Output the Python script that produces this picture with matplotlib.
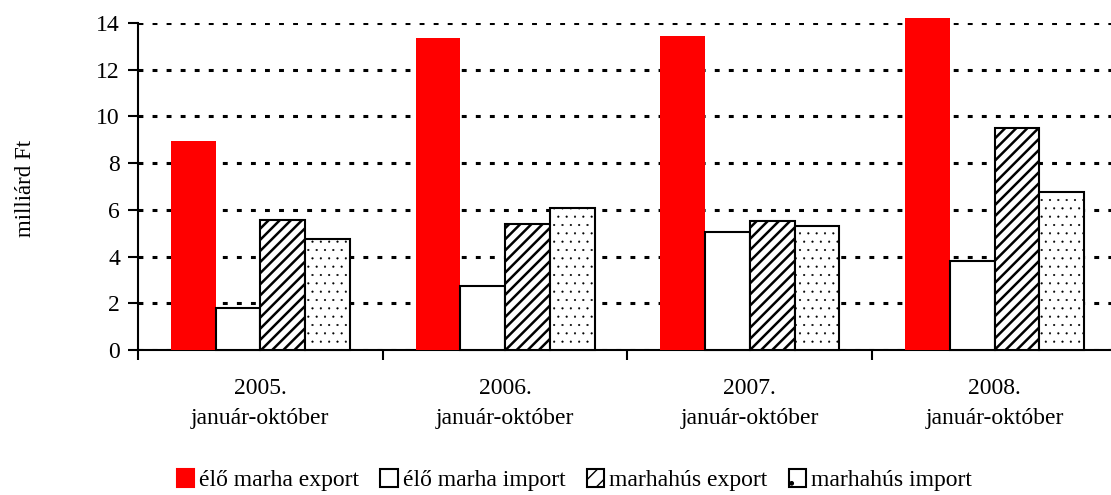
import numpy as np
import matplotlib
matplotlib.use("Agg")
import matplotlib.pyplot as plt
from matplotlib.patches import Patch

plt.rcParams["font.family"] = ["Liberation Serif", "DejaVu Serif"]

categories = ["2005.\njanuár-október", "2006.\njanuár-október",
              "2007.\njanuár-október", "2008.\njanuár-október"]
series = ["élő marha export", "élő marha import", "marhahús export", "marhahús import"]
elo_export = [8.95, 13.34, 13.44, 14.2]
elo_import = [1.78, 2.73, 5.04, 3.82]
hus_export = [5.58, 5.38, 5.54, 9.52]
hus_import = [4.74, 6.08, 5.30, 6.76]
values = [elo_export, elo_import, hus_export, hus_import]

fig = plt.figure(figsize=(11.11, 4.95), dpi=100)
ax = fig.add_axes([0.1242, 0.2929, 0.8812, 0.6606])

x = np.arange(len(categories))
w = 0.183
styles = [dict(color="#FF0000", edgecolor="#FF0000", lw=0),
          dict(color="white", edgecolor="black", lw=1.5),
          dict(color="white", edgecolor="black", lw=1.5, hatch="///"),
          dict(color="white", edgecolor="black", lw=1.5, hatch="..")]
hatch_lw = [1.0, 1.0, 1.8, 0.3]
for i, (vals, st) in enumerate(zip(values, styles)):
    with plt.rc_context({"hatch.linewidth": hatch_lw[i]}):
        bars = ax.bar(x + (i - 1.5) * w, vals, w, label=series[i], zorder=3, clip_on=False, **st)
    for b in bars:
        if hasattr(b, "set_hatch_linewidth"):
            b.set_hatch_linewidth(hatch_lw[i])

ax.set_xlim(-0.5, len(categories) - 0.5)
ax.set_ylim(0, 14)
ax.set_yticks(range(0, 15, 2))
ax.set_xticks(np.arange(len(categories) + 1) - 0.5)
ax.set_xticklabels([])
ax.set_xticks(x, categories, minor=True)
ax.tick_params(axis="x", which="minor", length=0, labelsize=17, pad=20)
ax.tick_params(axis="x", which="major", length=7, width=1.5, direction="out")
ax.tick_params(axis="y", length=7, width=1.5, direction="out", labelsize=17, pad=6)
for lab in ax.get_xticklabels(minor=True):
    lab.set_linespacing(1.6)
ax.yaxis.grid(True, color="black", lw=2.2, linestyle=(0, (1.6, 3.0)), zorder=0)
ax.set_axisbelow(True)
for s in ["top", "right"]:
    ax.spines[s].set_visible(False)
for s in ["left", "bottom"]:
    ax.spines[s].set_linewidth(1.5)

fig.text(0.023, 0.62, "milliárd Ft", rotation=90, ha="center", va="center", fontsize=16.5)

handles = []
for i, st in enumerate(styles):
    with plt.rc_context({"hatch.linewidth": hatch_lw[i]}):
        p = Patch(facecolor=st["color"], edgecolor=st["edgecolor"], lw=1.5,
                  hatch={"///": "//", "..": "."}.get(st.get("hatch")))
    handles.append(p)
fig.legend(handles, series, loc="center", bbox_to_anchor=(0.517, 0.03), ncol=4,
           frameon=False, fontsize=17, handlelength=0.75, handleheight=0.75,
           handletextpad=0.2, columnspacing=0.9)

fig.savefig("out.png", dpi=100)
